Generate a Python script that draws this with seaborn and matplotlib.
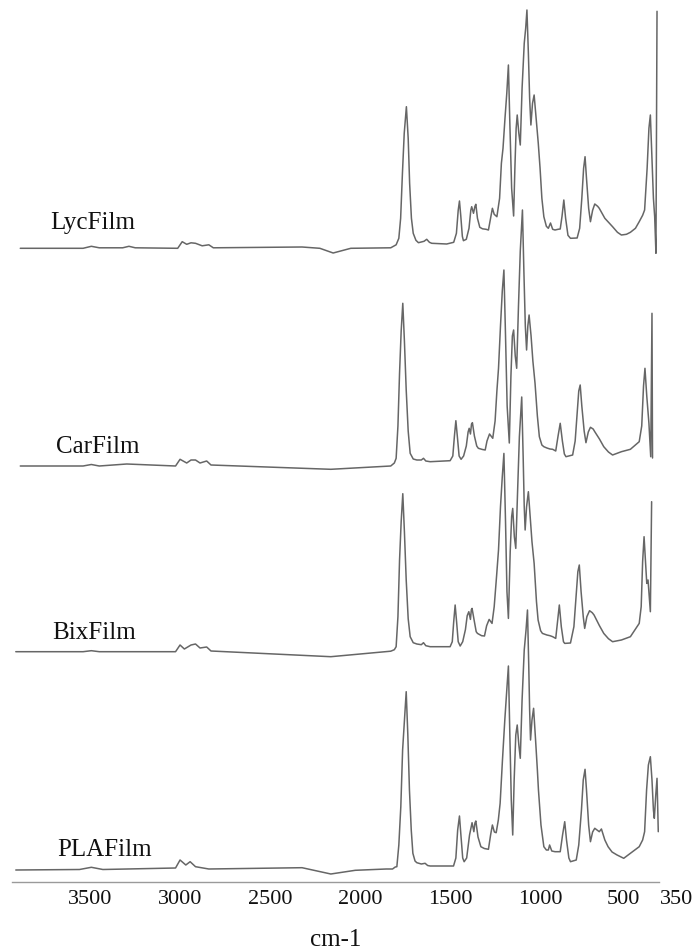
import numpy as np
import pandas as pd
import matplotlib
matplotlib.use("Agg")
import matplotlib.pyplot as plt
import matplotlib.transforms as mtransforms
import seaborn as sns

# FTIR spectra of the PLA based films (wavenumber in cm-1, absorbance in a.u.)
lyc_wn = [3889, 3540, 3494, 3450, 3320, 3285, 3250, 3014, 2989, 2964, 2940, 2915, 2878,
          2841, 2816, 2323, 2224, 2150, 2052, 1830, 1800, 1785, 1775, 1765, 1755, 1743,
          1733, 1725, 1715, 1705, 1690, 1676, 1645, 1630, 1615, 1602, 1519, 1480, 1465,
          1455, 1448, 1441, 1432, 1426, 1410, 1395, 1385, 1380, 1370, 1362, 1357, 1348,
          1335, 1320, 1300, 1287, 1275, 1265, 1255, 1240, 1225, 1215, 1206, 1195, 1185,
          1176, 1168, 1158, 1147, 1140, 1133, 1127, 1118, 1110, 1100, 1088, 1080, 1073,
          1065, 1058, 1051, 1042, 1033, 1022, 1010, 1000, 990, 979, 965, 954, 942, 930,
          917, 900, 888, 878, 868, 858, 845, 831, 794, 780, 768, 758, 750, 742, 730, 720,
          708, 696, 680, 671, 640, 597, 570, 548, 520, 498, 470, 449, 430, 419, 405, 395,
          387, 380, 370, 363, 356, 350]
lyc_abs = [0.0, 0.0, 0.02, 0.005, 0.005, 0.02, 0.005, 0.0, 0.066, 0.04, 0.055, 0.05, 0.025,
           0.035, 0.005, 0.013, 0.0, -0.047, 0.0, 0.005, 0.035, 0.1, 0.3, 0.75, 1.15, 1.416,
           1.1, 0.65, 0.3, 0.15, 0.08, 0.056, 0.07, 0.09, 0.06, 0.05, 0.043, 0.06, 0.15,
           0.38, 0.473, 0.33, 0.12, 0.076, 0.09, 0.2, 0.38, 0.416, 0.35, 0.42, 0.44, 0.3,
           0.21, 0.195, 0.19, 0.183, 0.3, 0.4, 0.34, 0.316, 0.5, 0.85, 1.0, 1.3, 1.55,
           1.833, 1.25, 0.6, 0.323, 0.8, 1.2, 1.333, 1.15, 1.033, 1.6, 2.05, 2.2, 2.383,
           1.95, 1.5, 1.233, 1.45, 1.533, 1.3, 1.05, 0.8, 0.5, 0.316, 0.22, 0.2, 0.253, 0.19,
           0.183, 0.19, 0.193, 0.32, 0.483, 0.3, 0.13, 0.1, 0.103, 0.2, 0.5, 0.8, 0.916, 0.7,
           0.4, 0.266, 0.38, 0.443, 0.42, 0.4, 0.3, 0.216, 0.16, 0.133, 0.14, 0.16, 0.2, 0.266,
           0.33, 0.383, 0.8, 1.2, 1.333, 1.0, 0.5, 0.316, -0.05, 2.37]

car_wn = [3889, 3540, 3494, 3450, 3297, 3026, 3001, 2964, 2940, 2915, 2890, 2853, 2829,
          2163, 1830, 1810, 1800, 1790, 1781, 1772, 1763, 1754, 1744, 1733, 1722, 1705,
          1685, 1660, 1648, 1635, 1611, 1500, 1485, 1476, 1468, 1460, 1450, 1439, 1425,
          1410, 1400, 1394, 1387, 1381, 1376, 1365, 1352, 1343, 1320, 1305, 1295, 1281,
          1263, 1250, 1240, 1231, 1220, 1210, 1201, 1192, 1183, 1171, 1162, 1154, 1147,
          1138, 1130, 1120, 1110, 1098, 1090, 1082, 1075, 1068, 1061, 1050, 1040, 1028,
          1015, 1004, 990, 979, 962, 945, 930, 913, 900, 888, 876, 865, 856, 819, 805,
          795, 785, 777, 768, 755, 745, 732, 720, 705, 696, 670, 646, 620, 597, 548, 498,
          449, 435, 425, 417, 407, 395, 385, 378, 375]
car_abs = [0.0, 0.0, 0.015, 0.0, 0.02, 0.0, 0.067, 0.03, 0.06, 0.06, 0.03, 0.05, 0.01,
           -0.033, 0.0, 0.03, 0.077, 0.4, 0.93, 1.35, 1.627, 1.25, 0.76, 0.35, 0.127, 0.07,
           0.06, 0.06, 0.077, 0.05, 0.043, 0.053, 0.1, 0.3, 0.453, 0.3, 0.1, 0.067, 0.1,
           0.2, 0.34, 0.377, 0.32, 0.42, 0.433, 0.3, 0.2, 0.177, 0.165, 0.16, 0.25, 0.32,
           0.277, 0.45, 0.75, 0.977, 1.4, 1.75, 1.96, 1.3, 0.6, 0.23, 0.9, 1.3, 1.36,
           1.1, 0.977, 1.6, 2.15, 2.56, 1.95, 1.4, 1.16, 1.4, 1.51, 1.3, 1.05, 0.827,
           0.5, 0.293, 0.21, 0.193, 0.18, 0.17, 0.167, 0.15, 0.3, 0.427, 0.25, 0.12, 0.093, 0.11, 0.25,
           0.5, 0.75, 0.81, 0.6, 0.35, 0.233, 0.34, 0.387, 0.37, 0.343, 0.27, 0.193, 0.14, 0.11, 0.143, 0.167,
           0.243, 0.4, 0.8, 0.977, 0.7, 0.427, 0.093, 1.527, 0.08]

bix_wn = [3914, 3540, 3494, 3450, 3026, 3001, 2977, 2940, 2915, 2890, 2853, 2829, 2163,
          1830, 1810, 1800, 1790, 1781, 1772, 1763, 1754, 1744, 1733, 1722, 1705, 1685,
          1660, 1648, 1635, 1611, 1500, 1488, 1480, 1472, 1464, 1455, 1444, 1430, 1415,
          1405, 1396, 1387, 1382, 1378, 1365, 1355, 1348, 1325, 1309, 1297, 1283, 1267,
          1255, 1242, 1231, 1220, 1210, 1201, 1192, 1184, 1176, 1166, 1158, 1152, 1143,
          1135, 1125, 1115, 1102, 1094, 1088, 1083, 1075, 1065, 1055, 1045, 1033, 1020,
          1011, 997, 987, 962, 945, 930, 913, 903, 893, 882, 870, 863, 831, 812, 800, 790,
          782, 772, 760, 752, 740, 725, 710, 700, 670, 646, 620, 597, 548, 498, 449, 438,
          430, 422, 414, 407, 400, 387, 380]
bix_abs = [0.0, 0.0, 0.01, 0.0, 0.0, 0.067, 0.027, 0.067, 0.077, 0.037, 0.047, 0.007, -0.05,
           0.005, 0.02, 0.05, 0.35, 0.917, 1.3, 1.58, 1.2, 0.717, 0.33, 0.15, 0.09, 0.077,
           0.07, 0.09, 0.06, 0.05, 0.05, 0.1, 0.3, 0.467, 0.3, 0.1, 0.057, 0.1, 0.22,
           0.36, 0.4, 0.323, 0.42, 0.433, 0.3, 0.2, 0.183, 0.16, 0.157, 0.26, 0.323, 0.283,
           0.45, 0.75, 1.017, 1.45, 1.75, 1.983, 1.3, 0.6, 0.333, 1.0, 1.35, 1.433, 1.15,
           1.033, 1.6, 2.15, 2.547, 1.95, 1.45, 1.217, 1.45, 1.6, 1.35, 1.1, 0.883, 0.5,
           0.317, 0.21, 0.183, 0.167, 0.16, 0.15, 0.133, 0.3, 0.467, 0.25, 0.1, 0.083, 0.087, 0.25, 0.55, 0.8,
           0.867, 0.6, 0.35, 0.233, 0.35, 0.41, 0.39, 0.367, 0.26, 0.183, 0.13, 0.1, 0.117, 0.15, 0.283, 0.45,
           0.9, 1.15, 0.9, 0.683, 0.717, 0.4, 1.5]

pla_wn = [3914, 3560, 3494, 3430, 3026, 3001, 2969, 2945, 2915, 2841, 2323, 2163, 2027,
          1855, 1820, 1805, 1796, 1785, 1774, 1764, 1752, 1744, 1735, 1726, 1716, 1707,
          1695, 1685, 1660, 1639, 1625, 1611, 1481, 1468, 1458, 1448, 1440, 1430, 1422,
          1408, 1392, 1378, 1368, 1362, 1357, 1345, 1329, 1310, 1287, 1275, 1265, 1254,
          1244, 1232, 1222, 1215, 1209, 1196, 1185, 1176, 1168, 1160, 1152, 1144, 1135,
          1127, 1118, 1110, 1100, 1088, 1078, 1070, 1063, 1058, 1053, 1045, 1036, 1025,
          1015, 1009, 995, 979, 965, 954, 947, 935, 917, 888, 875, 863, 853, 840, 831, 799,
          785, 770, 760, 750, 742, 730, 720, 708, 696, 671, 659, 640, 622, 600, 572, 535,
          498, 449, 430, 419, 408, 398, 387, 378, 370, 365, 357, 350, 343]
pla_abs = [0.0, 0.005, 0.027, 0.005, 0.02, 0.1, 0.05, 0.083, 0.033, 0.01, 0.023, -0.04, -0.003,
           0.01, 0.01, 0.03, 0.033, 0.25, 0.633, 1.2, 1.55, 1.783, 1.35, 0.8, 0.4, 0.167,
           0.09, 0.073, 0.06, 0.067, 0.045, 0.04, 0.04, 0.12, 0.4, 0.54, 0.35, 0.12, 0.083,
           0.12, 0.35, 0.473, 0.383, 0.47, 0.49, 0.33, 0.233, 0.215, 0.207, 0.35, 0.45, 0.38,
           0.373, 0.5, 0.667, 0.9, 1.1, 1.5, 1.8, 2.04, 1.35, 0.7, 0.35, 0.9, 1.35,
           1.45, 1.25, 1.117, 1.7, 2.2, 2.4, 2.6, 2.05, 1.6, 1.3, 1.5, 1.617, 1.3,
           1.0, 0.8, 0.45, 0.233, 0.2, 0.2, 0.25, 0.19, 0.183, 0.183, 0.35, 0.483, 0.3, 0.12, 0.083, 0.1,
           0.25, 0.6, 0.9, 1.007, 0.8, 0.45, 0.283, 0.38, 0.417, 0.383, 0.41, 0.3, 0.233, 0.18, 0.15, 0.117,
           0.167, 0.233, 0.3, 0.383, 0.8, 1.05, 1.133, 0.9, 0.6, 0.517, 0.75, 0.917, 0.383]

film_names = ["LycFilm", "CarFilm", "BixFilm", "PLAFilm"]
stack_offsets = [6.337, 4.16, 2.303, 0.12]

tick_values = [3500, 3000, 2500, 2000, 1500, 1000, 500, 350]
tick_labels = ["3500", "3000", "2500", "2000", "1500", "1000", "500", "350"]

spectra = {
    "LycFilm": (lyc_wn, lyc_abs),
    "CarFilm": (car_wn, car_abs),
    "BixFilm": (bix_wn, bix_abs),
    "PLAFilm": (pla_wn, pla_abs),
}

frames = []
for name, off in zip(film_names, stack_offsets):
    wn, ab = spectra[name]
    frames.append(pd.DataFrame({"wavenumber": wn,
                                "signal": np.asarray(ab) + off,
                                "film": name}))
data = pd.concat(frames, ignore_index=True)

sns.set_theme(style="white")
plt.rcParams["font.family"] = ["Liberation Serif", "DejaVu Serif"]

fig = plt.figure(figsize=(6.96, 9.52), dpi=100)
ax = fig.add_axes([12 / 696, 70 / 952, 647 / 696, 882 / 952])

line_color = "#666666"
for name in film_names:
    sub = data[data["film"] == name]
    sns.lineplot(data=sub, x="wavenumber", y="signal", sort=False, estimator=None,
                 color=line_color, linewidth=1.1, ax=ax)

ax.set_xlim(3935, 339)
ax.set_ylim(0, 8.82)

# film labels sitting just above each baseline
label_pos = {"LycFilm": (3722, 6.59), "CarFilm": (3692, 4.353),
             "BixFilm": (3709, 2.487), "PLAFilm": (3684, 0.32)}
for name in film_names:
    x, y = label_pos[name]
    ax.text(x, y, name, fontsize=18, ha="left", va="center", color="#111111")

for side in ["top", "left", "right"]:
    ax.spines[side].set_visible(False)
ax.spines["bottom"].set_color("#9a9a9a")
ax.spines["bottom"].set_linewidth(1.0)

ax.set_yticks([])
ax.set_xticks(tick_values)
ax.set_xticklabels(tick_labels, fontsize=16, color="#111111")
ax.tick_params(axis="x", direction="out", length=4, width=0.8, color="#9a9a9a", pad=2)

# pull the two crowded labels at the low-wavenumber end apart
shifts = {"500": -7, "350": 20}
for lab in ax.get_xticklabels():
    dx = shifts.get(lab.get_text(), 0)
    if dx:
        lab.set_transform(lab.get_transform() +
                          mtransforms.ScaledTranslation(dx / 100, 0, fig.dpi_scale_trans))

ax.set_xlabel("cm-1", fontsize=18, color="#111111", labelpad=14)
ax.set_ylabel("")
legend = ax.get_legend()
if legend is not None:
    legend.remove()

fig.savefig("out.png", dpi=100)
